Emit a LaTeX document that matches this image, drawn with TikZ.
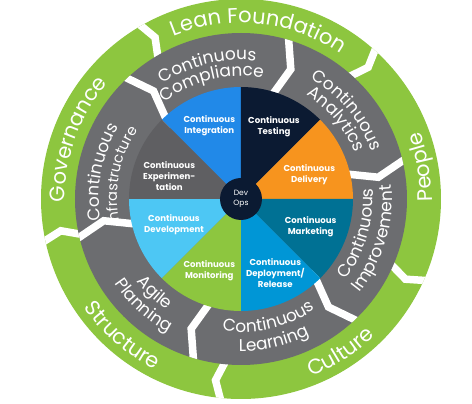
\documentclass[tikz,border=0pt]{standalone}
\usepackage{fontspec}
\setmainfont{Poppins}
\usetikzlibrary{decorations.text}
\definecolor{ringgreen}{RGB}{141,198,63}
\definecolor{ringgray}{RGB}{108,109,112}
\definecolor{expgray}{RGB}{95,95,98}
\definecolor{intblue}{RGB}{33,137,232}
\definecolor{navyblue}{RGB}{11,26,50}
\definecolor{delorange}{RGB}{247,148,30}
\definecolor{mkteal}{RGB}{0,113,148}
\definecolor{depblue}{RGB}{0,150,214}
\definecolor{devlight}{RGB}{77,199,244}
% clockwise text (tops outward): centre angle, baseline radius, text, size
\newcommand{\cwlabel}[4]{\path[decorate,decoration={text along path,text align=center,text color=white,text={|\fontsize{#4}{#4}\selectfont|#3}}] ({#1+70}:#2) arc[start angle={#1+70}, end angle={#1-70}, radius=#2];}
% counter-clockwise text (tops inward)
\newcommand{\ccwlabel}[4]{\path[decorate,decoration={text along path,text align=center,text color=white,text={|\fontsize{#4}{#4}\selectfont|#3}}] ({#1-70}:#2) arc[start angle={#1-70}, end angle={#1+70}, radius=#2];}
\tikzset{
  sepline/.style={draw=white, line width=7.5pt, line join=miter},
  pielabel/.style={text=white, align=center, font=\bfseries\fontsize{8.6}{11}\selectfont, inner sep=0pt}
}
\begin{document}
\begin{tikzpicture}
\useasboundingbox (-241pt,-205pt) rectangle (231pt,199pt);
% green ring
\fill[ringgreen] (0,0) circle (200pt);
\begin{scope}
  \clip (0,0) circle (200pt);
  \foreach \a in {121,49,-23,-95,-167}
    \draw[sepline] (\a:160pt) -- ({\a-3}:183pt) -- (\a:210pt);
\end{scope}
% gray ring
\fill[ringgray] (0,0) circle (166pt);
\begin{scope}
  \clip (0,0) circle (166pt);
  \foreach \a in {135,75,15,-45,-105,-165}
    \draw[sepline] (\a:100pt) -- ({\a-6}:139pt) -- (\a:180pt);
\end{scope}
% pie
\fill[intblue] (0,0) -- (90:112pt) arc[start angle=90, end angle=135, radius=112pt] -- cycle;
\fill[navyblue] (0,0) -- (45:112pt) arc[start angle=45, end angle=90, radius=112pt] -- cycle;
\fill[delorange] (0,0) -- (0:112pt) arc[start angle=0, end angle=45, radius=112pt] -- cycle;
\fill[mkteal] (0,0) -- (-45:112pt) arc[start angle=-45, end angle=0, radius=112pt] -- cycle;
\fill[depblue] (0,0) -- (-90:112pt) arc[start angle=-90, end angle=-45, radius=112pt] -- cycle;
\fill[ringgreen] (0,0) -- (-135:112pt) arc[start angle=-135, end angle=-90, radius=112pt] -- cycle;
\fill[devlight] (0,0) -- (180:112pt) arc[start angle=180, end angle=225, radius=112pt] -- cycle;
\fill[expgray] (0,0) -- (135:112pt) arc[start angle=135, end angle=180, radius=112pt] -- cycle;
\node[circle, fill=navyblue, minimum size=42pt, inner sep=0pt, text=white, align=center, font=\fontsize{7.6}{10}\selectfont] (devops) at (0,0) {Dev\\Ops};
% pie labels
\node[pielabel] (integ) at (-31.7pt,73pt) {Continuous\\Integration};
\node[pielabel] (testing) at (33pt,72.3pt) {Continuous\\Testing};
\node[pielabel] (delivery) at (68.3pt,24.7pt) {Continuous\\Delivery};
\node[pielabel] (marketing) at (69.7pt,-27.7pt) {Continuous\\Marketing};
\node[pielabel] (deploy) at (34.3pt,-74.3pt) {Continuous\\Deployment/\\Release};
\node[pielabel] (monitor) at (-31.7pt,-72pt) {Continuous\\Monitoring};
\node[pielabel] (develop) at (-67pt,-26pt) {Continuous\\Development};
\node[pielabel] (experiment) at (-71.7pt,23pt) {Continuous\\Experimen-\\tation};
% gray ring labels
\cwlabel{104}{139pt}{Continuous}{17}
\cwlabel{104}{123pt}{Compliance}{17}
\cwlabel{40}{139pt}{Continuous}{17}
\cwlabel{40}{123pt}{Analytics}{17}
\cwlabel{169}{142pt}{Continuous}{17}
\cwlabel{169}{124pt}{Infrastructure}{14.5}
\ccwlabel{-16.5}{132pt}{Continuous}{17}
\ccwlabel{-16.5}{151pt}{Improvement}{17}
\ccwlabel{-77}{133pt}{Continuous}{17}
\ccwlabel{-77}{152pt}{Learning}{17}
\ccwlabel{-132.5}{133pt}{Agile}{17}
\ccwlabel{-132.5}{152pt}{Planning}{17}
% green ring labels
\cwlabel{84}{176pt}{Lean Foundation}{21}
\cwlabel{160}{176pt}{Governance}{21}
\ccwlabel{10}{191pt}{People}{21}
\ccwlabel{-57}{191pt}{Culture}{21}
\ccwlabel{-131}{191pt}{Structure}{21}
\end{tikzpicture}
\end{document}
